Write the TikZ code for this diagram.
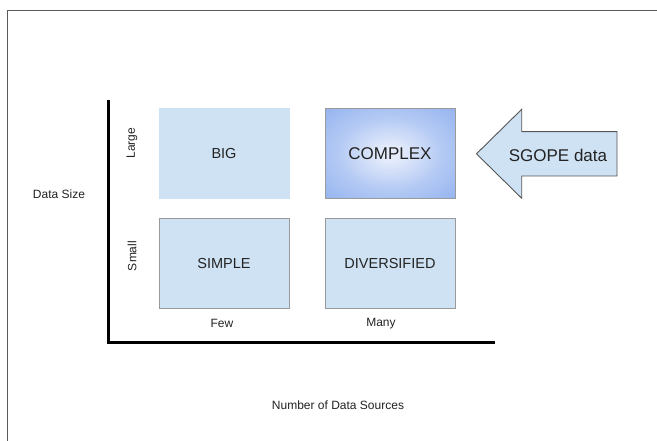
\documentclass[tikz,border=0pt]{standalone}
\usepackage{fontspec}
\setmainfont{Liberation Sans}
\definecolor{cellfill}{HTML}{CFE2F3}
\definecolor{cellline}{HTML}{9A9A9A}
\definecolor{framegray}{HTML}{5A5A5A}
\definecolor{arrowline}{HTML}{555555}
\definecolor{txt}{HTML}{222222}
\definecolor{hotin}{HTML}{E4EBFB}
\definecolor{hotinner}{HTML}{B4CAF4}
\definecolor{hotmid}{HTML}{82A6EC}
\definecolor{hotout}{HTML}{6895E6}
\pgfdeclareradialshading{hotcell}{\pgfpoint{0bp}{0bp}}{%
  color(0bp)=(hotin); color(4bp)=(hotin); color(20bp)=(hotinner);
  color(45bp)=(hotmid); color(71bp)=(hotout); color(100bp)=(hotout)}
\tikzset{
  cell/.style={draw=cellline, line width=0.9pt, fill=cellfill,
    minimum width=130pt, minimum height=90pt, inner sep=0pt,
    text=txt, font=\fontsize{14.5}{17}\selectfont},
  hot/.style={cell, shading=hotcell, font=\fontsize{17}{20}\selectfont},
  axislabel/.style={text=txt, font=\fontsize{12}{14}\selectfont, inner sep=0pt},
  axisline/.style={line width=3pt, black},
}
\begin{document}
\begin{tikzpicture}[x=1pt, y=-1pt]
  \useasboundingbox (0,0) rectangle (657,441);
  % outer frame (only the top and left edges fall inside the page)
  \draw[framegray, line width=0.9pt] (7.5,441.5) -- (7.5,10.5) -- (658,10.5);

  % quadrant cells
  \node[cell, draw=cellfill] (big) at (224,153.5) {BIG};
  \node[hot] (complex) at (390,153.5) {COMPLEX};
  \node[cell] (simple) at (224,263.3) {SIMPLE};
  \node[cell] (diverse) at (390,263.3) {DIVERSIFIED};

  % axes
  \coordinate (ytop) at (108,100);
  \coordinate (origin) at (108,342);
  \coordinate (xend) at (495,342);
  \draw[axisline] (ytop) -- (origin) -- (xend);

  % axis labels
  \node[axislabel, rotate=90] (large) at (132,143) {Large};
  \node[axislabel, rotate=90] (small) at (132,256) {Small};
  \node[axislabel] (few) at (222,323) {Few};
  \node[axislabel] (many) at (381,323.5) {Many};
  \node[axislabel] (ysize) at (59,194) {Data Size};
  \node[axislabel] (xsrc) at (338,405) {Number of Data Sources};

  % block arrow pointing at the COMPLEX cell
  \coordinate (tip) at (476.5,153.8);
  \coordinate (headtop) at (521.7,109.3);
  \coordinate (shafttop) at (521.7,131.7);
  \coordinate (endtop) at (617,131.7);
  \coordinate (endbot) at (617,176);
  \coordinate (shaftbot) at (521.7,176);
  \coordinate (headbot) at (521.7,198.3);
  \draw[arrowline, line width=0.9pt, fill=cellfill, line join=miter]
    (tip) -- (headtop) -- (shafttop) -- (endtop) -- (endbot)
    -- (shaftbot) -- (headbot) -- cycle;
  \node[text=txt, font=\fontsize{17}{20}\selectfont, inner sep=0pt] (sgope) at (558,155) {SGOPE data};
\end{tikzpicture}
\end{document}
